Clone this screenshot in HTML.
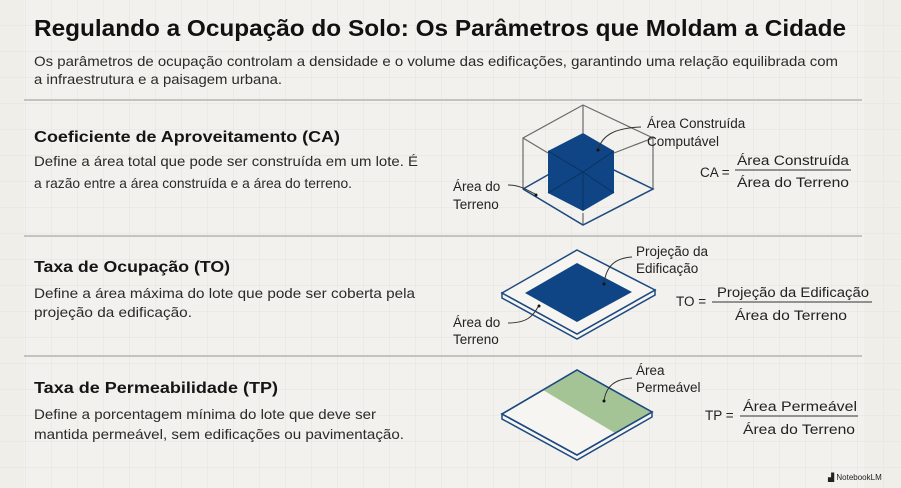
<!DOCTYPE html>
<html><head><meta charset="utf-8"><style>
html,body{margin:0;padding:0;background:#efeee9;}
svg{display:block}
text{font-family:"Liberation Sans",sans-serif;fill:#222}
.t{font-weight:bold;fill:#111}
.b{font-size:14px;fill:#2a2a2a}
.h{font-size:16px;font-weight:bold;fill:#151515}
.l{font-size:13.5px;fill:#222}
</style></head><body>
<svg width="901" height="488" viewBox="0 0 901 488" xmlns="http://www.w3.org/2000/svg">
<defs><pattern id="g" width="26" height="26" patternUnits="userSpaceOnUse"><path d="M26 0V26H0" fill="none" stroke="#e4e3de" stroke-width="1"/></pattern></defs>
<rect width="901" height="488" fill="#efeee9"/>
<rect x="24" y="0" width="840" height="488" fill="#f2f1ed"/>
<rect width="901" height="488" fill="url(#g)"/>
<g stroke="#c4c3bf" stroke-width="2"><line x1="24" y1="100" x2="862" y2="100"/><line x1="24" y1="236" x2="862" y2="236"/><line x1="24" y1="356" x2="862" y2="356"/></g>

<text x="34" y="36" class="t" font-size="23" textLength="812" lengthAdjust="spacingAndGlyphs">Regulando a Ocupação do Solo: Os Parâmetros que Moldam a Cidade</text>
<text x="34" y="66" class="b" textLength="804" lengthAdjust="spacingAndGlyphs">Os parâmetros de ocupação controlam a densidade e o volume das edificações, garantindo uma relação equilibrada com</text>
<text x="34" y="84" class="b" textLength="248" lengthAdjust="spacingAndGlyphs">a infraestrutura e a paisagem urbana.</text>

<text x="34" y="142" class="h" textLength="306" lengthAdjust="spacingAndGlyphs">Coeficiente de Aproveitamento (CA)</text>
<text x="34" y="166" class="b" textLength="384" lengthAdjust="spacingAndGlyphs">Define a área total que pode ser construída em um lote. É</text>
<text x="34" y="188" class="b" textLength="318" lengthAdjust="spacingAndGlyphs">a razão entre a área construída e a área do terreno.</text>

<text x="34" y="272" class="h" textLength="196" lengthAdjust="spacingAndGlyphs">Taxa de Ocupação (TO)</text>
<text x="34" y="298" class="b" textLength="381" lengthAdjust="spacingAndGlyphs">Define a área máxima do lote que pode ser coberta pela</text>
<text x="34" y="317" class="b" textLength="158" lengthAdjust="spacingAndGlyphs">projeção da edificação.</text>

<text x="34" y="393" class="h" textLength="244" lengthAdjust="spacingAndGlyphs">Taxa de Permeabilidade (TP)</text>
<text x="34" y="419" class="b" textLength="342" lengthAdjust="spacingAndGlyphs">Define a porcentagem mínima do lote que deve ser</text>
<text x="34" y="439" class="b" textLength="370" lengthAdjust="spacingAndGlyphs">mantida permeável, sem edificações ou pavimentação.</text>

<!-- CA cube -->
<g fill="none" stroke="#6a6a6a" stroke-width="1.2">
<polygon points="583,105 653,138 653,189 583,225 523,189 523,138"/>
<line x1="583" y1="105" x2="583" y2="133"/><line x1="523" y1="138" x2="548" y2="153"/><line x1="653" y1="138" x2="614" y2="153"/><line x1="583" y1="213" x2="583" y2="225"/>
</g>
<polyline points="523,189 583,225 653,189 583,155 523,189" fill="none" stroke="#1d4a80" stroke-width="1.5"/>
<polygon points="583,133 614,151 614,193 583,211 548,193 548,151" fill="#0f4584"/>
<g stroke="#0a3260" stroke-width="1" fill="none"><polyline points="548,151 583,172 614,151"/><line x1="583" y1="172" x2="583" y2="211"/><line x1="548" y1="193" x2="583" y2="172"/><line x1="614" y1="193" x2="583" y2="172"/></g>
<path d="M598,150 C602,135 615,128 641,127" fill="none" stroke="#333" stroke-width="1"/>
<circle cx="598" cy="150" r="1.5" fill="#111"/>
<text x="647" y="128" class="l">Área Construída</text>
<text x="647" y="146" class="l">Computável</text>
<text x="453" y="191" class="l">Área do</text>
<text x="453" y="209" class="l">Terreno</text>
<path d="M508,185 C520,185 527,190 535,194" fill="none" stroke="#333" stroke-width="1"/>
<circle cx="536" cy="195" r="1.5" fill="#111"/>
<text x="700" y="177" class="l" font-size="14">CA =</text>
<text x="737" y="165" class="l" font-size="14" textLength="112" lengthAdjust="spacingAndGlyphs">Área Construída</text>
<line x1="735" y1="170" x2="851" y2="170" stroke="#333" stroke-width="1"/>
<text x="737" y="187" class="l" font-size="14" textLength="112" lengthAdjust="spacingAndGlyphs">Área do Terreno</text>

<!-- TO plate -->
<g stroke="#1d4a80" stroke-width="1.5" fill="#f6f5f1">
<polygon points="502,293 577,334 655,290 655,295 577,339 502,298"/>
<polygon points="577,250 655,290 577,334 502,293"/>
</g>
<polygon points="577,263 632,292 577,322 525,293" fill="#0f4584"/>
<path d="M604,284 C606,266 615,258 632,257" fill="none" stroke="#333" stroke-width="1"/>
<circle cx="604" cy="284" r="1.5" fill="#111"/>
<text x="636" y="256" class="l">Projeção da</text>
<text x="636" y="273" class="l">Edificação</text>
<text x="453" y="327" class="l">Área do</text>
<text x="453" y="344" class="l">Terreno</text>
<path d="M508,323 C527,323 533,316 538,307" fill="none" stroke="#333" stroke-width="1"/>
<circle cx="539" cy="306" r="1.5" fill="#111"/>
<text x="676" y="306" class="l" font-size="14">TO =</text>
<text x="717" y="297" class="l" font-size="14" textLength="152" lengthAdjust="spacingAndGlyphs">Projeção da Edificação</text>
<line x1="712" y1="302" x2="872" y2="302" stroke="#333" stroke-width="1"/>
<text x="735" y="320" class="l" font-size="14" textLength="112" lengthAdjust="spacingAndGlyphs">Área do Terreno</text>

<!-- TP plate -->
<g stroke="#1d4a80" stroke-width="1.5" fill="#f6f5f1">
<polygon points="502,414 577,455 652,412 652,417 577,460 502,419"/>
<polygon points="577,370 652,412 577,455 502,414"/>
</g>
<polygon points="543,390 577,371 651,412 615,433" fill="#9cbf8c" opacity="0.9"/>
<polygon points="577,370 652,412 577,455 502,414" fill="none" stroke="#1d4a80" stroke-width="1.5"/>
<path d="M604,401 C606,386 615,379 632,378" fill="none" stroke="#333" stroke-width="1"/>
<circle cx="604" cy="401" r="1.5" fill="#111"/>
<text x="636" y="375" class="l">Área</text>
<text x="636" y="392" class="l">Permeável</text>
<text x="705" y="420" class="l" font-size="14">TP =</text>
<text x="743" y="411" class="l" font-size="14" textLength="114" lengthAdjust="spacingAndGlyphs">Área Permeável</text>
<line x1="740" y1="416" x2="858" y2="416" stroke="#333" stroke-width="1"/>
<text x="743" y="434" class="l" font-size="14" textLength="112" lengthAdjust="spacingAndGlyphs">Área do Terreno</text>

<text x="828" y="480" font-size="8" fill="#333">▟ NotebookLM</text>
</svg>
</body></html>
